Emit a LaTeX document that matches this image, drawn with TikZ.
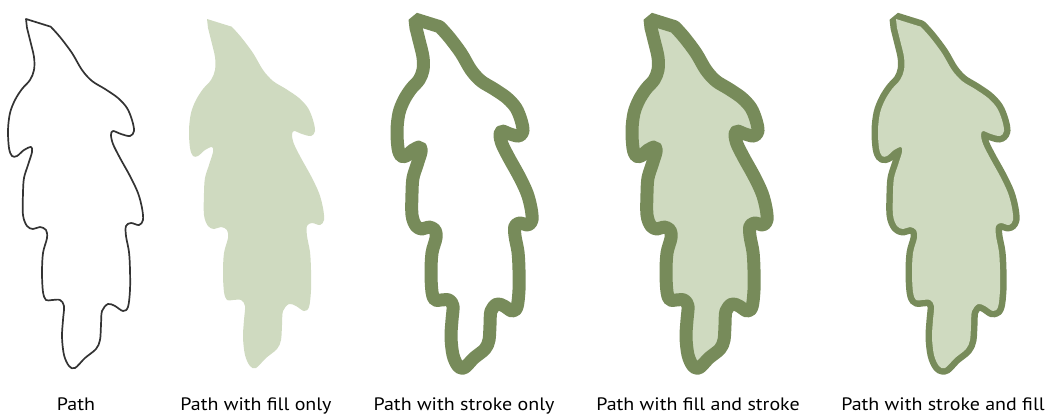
\documentclass[tikz,border=0pt]{standalone}
\usepackage{fontspec}
\setmainfont{PT Sans}[FakeStretch=1.11]
\definecolor{leafstroke}{HTML}{778B5A}
\definecolor{leaffill}{HTML}{CFDAC0}
\definecolor{pathgray}{HTML}{333333}
\def\leafpath{(26,19) -- plot[smooth,tension=0.55] coordinates {
(50.7,26.7) (60,37) (72,53) (82,70) (92,81) (105,89) (118,98) (127,108) (132,120) (134,131)
(130,136) (121,134) (113,131) (111,135) (113,144) (120,158) (130,176) (138,193) (142,208)
(143,220) (139,225) (131,223) (126,226) (126,236) (129,252) (130,270) (130,290) (128,307)
(123,311) (115,306) (108,304) (102,311) (101,325) (100,340) (96,349) (85,358) (75,368)
(69,366) (64,355) (62,337) (63,320) (64,306) (60,300) (52,300) (46,300) (43,292) (42,273)
(43,253) (47,238) (46,230) (40,227) (33,229) (27,226) (23,215) (23,193) (24,178) (28,165)
(32,152) (31,147) (24,150) (17,156) (12,156) (9,148) (8,130) (10,113) (15,100) (22,89)
(30,80) (34,70) (34,57) (30,40) (27,28)} -- cycle}
\begin{document}
\begin{tikzpicture}[x=1pt,y=-1pt,
  caption/.style={anchor=base,inner sep=0pt,font=\fontsize{18}{20}\selectfont},
  plainline/.style={draw=pathgray,line width=1.7pt,line join=round},
  thickline/.style={draw=leafstroke,line width=13pt,line join=bevel},
  leafarea/.style={fill=leaffill}]
\useasboundingbox (0,0) rectangle (1048,415);
% 1: path
\draw[plainline] \leafpath;
% 2: fill only
\begin{scope}[xshift=181pt]
\fill[leafarea] \leafpath;
\end{scope}
% 3: stroke only
\begin{scope}[xshift=389pt]
\draw[thickline] \leafpath;
\end{scope}
% 4: fill and stroke
\begin{scope}[xshift=624pt]
\filldraw[leafarea,thickline] \leafpath;
\end{scope}
% 5: stroke and fill (fill on top of stroke)
\begin{scope}[xshift=870pt]
\draw[thickline] \leafpath;
\fill[leafarea] \leafpath;
\end{scope}
\node[caption] (c1) at (76,410.5) {Path};
\node[caption] (c2) at (256,410.5) {Path with fill only};
\node[caption] (c3) at (464,410.5) {Path with stroke only};
\node[caption] (c4) at (698,410.5) {Path with fill and stroke};
\node[caption] (c5) at (943,410.5) {Path with stroke and fill};
\end{tikzpicture}
\end{document}
